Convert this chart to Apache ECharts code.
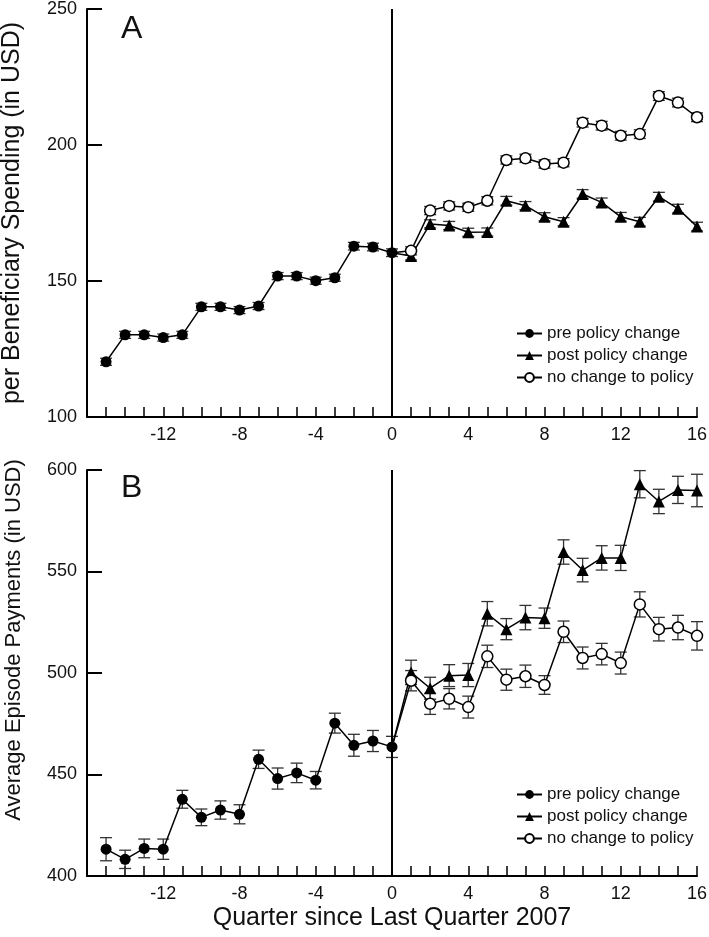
<!DOCTYPE html>
<html><head><meta charset="utf-8">
<script src="https://cdn.jsdelivr.net/npm/echarts@6/dist/echarts.min.js"></script>
<style>html,body{margin:0;padding:0;background:#fff}#c{width:709px;height:937px}</style>
</head><body><div id="c"></div>
<script>
// ---- data ----
var preX = [-15,-14,-13,-12,-11,-10,-9,-8,-7,-6,-5,-4,-3,-2,-1,0];
var postX = [0,1,2,3,4,5,6,7,8,9,10,11,12,13,14,15,16];
var xTickLabels = ['-12','-8','-4','0','4','8','12','16'];

var preA = [120.3,130.2,130.2,129.2,130.2,140.5,140.5,139.3,140.8,151.8,151.8,150.1,151.2,162.8,162.5,160.4];
var postA = [160.4,159.2,171,170.4,167.9,168,179.5,177.7,173.6,171.8,182,178.9,173.6,171.8,181,176.6,170];
var noChgA = [160.4,161.1,175.9,177.6,177.1,179.5,194.5,195.1,193,193.5,208.2,207.1,203.4,204,218,215.6,210.2];
var errPreA = [1.3,1.3,1.3,1.3,1.3,1.3,1.3,1.3,1.3,1.3,1.3,1.3,1.3,1.4,1.4,1.4];
var errPostA = [1.4,1.5,1.5,1.5,1.5,1.5,1.6,1.5,1.5,1.5,1.6,1.6,1.6,1.6,1.6,1.6,1.6];
var errNoChgA = [1.4,1.5,1.5,1.5,1.5,1.5,1.5,1.5,1.5,1.5,1.6,1.6,1.6,1.6,1.6,1.6,1.6];

var preB = [413.2,408.2,413.6,413.2,437.8,428.9,432.5,430.4,457.5,448,450.8,447.2,475.3,464.4,466.5,463.6];
var postB = [463.6,500.3,492.5,498.7,499,529.2,521.6,527.3,527,559.6,550.7,556.7,556.7,593,584.5,590.2,589.9];
var noChgB = [463.6,496.2,484.8,487.3,483.2,508.2,496.7,498.4,494.1,520.3,507.4,509.3,504.9,533.8,521.6,522.4,518.3];
var errPreB = [5.7,4.5,4.6,5,4.4,4.1,4.5,4.7,4.5,5.2,4.8,4.3,4.9,5.4,5.2,5.2];
var errPostB = [5.2,6,5.4,5.4,5.7,6,5.2,6,5,6,5.8,6,6.2,6.7,6,6.7,8];
var errNoChgB = [5.2,5,5.2,5,5.4,5.5,5.2,5.5,4.6,5.3,5.4,5.3,5.4,6.2,5.8,6,7];

var names = ['pre policy change','post policy change','no change to policy'];
var panelLetters = ['A','B'];
var yNames = ['per Beneficiary Spending (in USD)','Average Episode Payments (in USD)'];
var xName = 'Quarter since Last Quarter 2007';

// ---- build ----
function pairs(xs, ys){ return xs.map(function(x,i){ return [x, ys[i]]; }); }
function triples(xs, ys, es){ return xs.map(function(x,i){ return [x, ys[i], es[i]]; }); }
function errSeries(idx, data){
  return {
    type:'custom', xAxisIndex:idx, yAxisIndex:idx, z:1, silent:true,
    encode:{x:0,y:1},
    data:data,
    renderItem:function(params, api){
      var x = api.value(0), y = api.value(1), e = api.value(2);
      var lo = api.coord([x, y-e]), hi = api.coord([x, y+e]);
      var w = 6;
      var st = {stroke:'#333', lineWidth:1.3};
      return {type:'group', children:[
        {type:'line', shape:{x1:lo[0],y1:lo[1],x2:hi[0],y2:hi[1]}, style:st},
        {type:'line', shape:{x1:lo[0]-w,y1:lo[1],x2:lo[0]+w,y2:lo[1]}, style:st},
        {type:'line', shape:{x1:hi[0]-w,y1:hi[1],x2:hi[0]+w,y2:hi[1]}, style:st}
      ]};
    }
  };
}
function lineSeries(idx, name, data, symbol, fill, hideFirst){
  var d = data.map(function(p,i){
    if (hideFirst && i===0) return {value:p, symbol:'none'};
    return p;
  });
  return {
    type:'line', name:name, xAxisIndex:idx, yAxisIndex:idx, z:3,
    data:d, symbol:symbol, symbolSize: symbol==='triangle'?12:11,
    showAllSymbol:true,
    lineStyle:{color:'#000', width:1.5},
    itemStyle:{color:fill, borderColor:'#000', borderWidth: fill==='#fff'?1.5:0},
    emphasis:{disabled:true}
  };
}
function vline(idx){
  return {type:'line', xAxisIndex:idx, yAxisIndex:idx, data:[], z:2,
    markLine:{silent:true, symbol:['none','none'], label:{show:false},
      lineStyle:{color:'#000', width:2, type:'solid'}, data:[{xAxis:0}]}};
}

var font = 'Liberation Sans, Arial, sans-serif';
function xAxis(idx, showName){
  return {
    type:'value', gridIndex:idx, min:-16, max:16, interval:4,
    axisLine:{onZero:false, lineStyle:{color:'#000', width:2}},
    axisTick:{inside:true, length:10, lineStyle:{color:'#000', width:1.5}},
    minorTick:{show:true, splitNumber:4, length:10, lineStyle:{color:'#000', width:1.5}},
    splitLine:{show:false},
    axisLabel:{color:'#111', fontSize:18, fontFamily:font, margin:9,
      formatter:function(v){ var s = String(v); return xTickLabels.indexOf(s)>=0 ? s : ''; }},
    name: showName ? xName : '', nameLocation:'middle', nameGap:30,
    nameTextStyle:{color:'#111', fontSize:25, fontFamily:font}
  };
}
function yAxis(idx, min, max, nameSize, shiftUp){
  return {
    type:'value', gridIndex:idx, min:min, max:max, interval:50,
    axisLine:{show:true, onZero:false, lineStyle:{color:'#000', width:2}},
    axisTick:{show:true, inside:true, length:15, lineStyle:{color:'#000', width:2}},
    splitLine:{show:false},
    axisLabel:{color:'#111', fontSize:18, fontFamily:font, margin:10},
    name: yNames[idx], nameLocation:'middle', nameGap:62,
    nameTextStyle:{color:'#111', fontSize:nameSize, fontFamily:font, padding:[0,0,0,shiftUp*2]}
  };
}
function legend(top){
  return {
    data:names, orient:'vertical', left:511, top:top, itemWidth:25, itemHeight:11,
    itemGap:5, textStyle:{color:'#111', fontSize:17, fontFamily:font}, selectedMode:false
  };
}

var option = {
  animation:false,
  backgroundColor:'#fff',
  grid:[
    {left:87, top:9, width:610, height:408, containLabel:false, outerBoundsMode:'none'},
    {left:87, top:470, width:610, height:406, containLabel:false, outerBoundsMode:'none'}
  ],
  xAxis:[xAxis(0,false), xAxis(1,true)],
  yAxis:[yAxis(0,100,250,25,0), yAxis(1,400,600,22,33)],
  legend:[legend(320), legend(781)],
  graphic:[
    {type:'text', left:121, top:13, style:{text:panelLetters[0], fontSize:32, fontFamily:font, fill:'#111'}},
    {type:'text', left:121, top:472, style:{text:panelLetters[1], fontSize:32, fontFamily:font, fill:'#111'}}
  ],
  series:[
    vline(0), vline(1),
    errSeries(0, triples(preX, preA, errPreA)),
    errSeries(0, triples(postX.slice(1), postA.slice(1), errPostA.slice(1))),
    errSeries(0, triples(postX.slice(1), noChgA.slice(1), errNoChgA.slice(1))),
    errSeries(1, triples(preX, preB, errPreB)),
    errSeries(1, triples(postX.slice(1), postB.slice(1), errPostB.slice(1))),
    errSeries(1, triples(postX.slice(1), noChgB.slice(1), errNoChgB.slice(1))),
    lineSeries(0, names[1], pairs(postX, postA), 'triangle', '#000', true),
    lineSeries(0, names[2], pairs(postX, noChgA), 'circle', '#fff', true),
    lineSeries(0, names[0], pairs(preX, preA), 'circle', '#000', false),
    lineSeries(1, names[1], pairs(postX, postB), 'triangle', '#000', true),
    lineSeries(1, names[2], pairs(postX, noChgB), 'circle', '#fff', true),
    lineSeries(1, names[0], pairs(preX, preB), 'circle', '#000', false)
  ]
};
var chart = echarts.init(document.getElementById('c'), null, {renderer:'canvas'});
chart.setOption(option);
</script></body></html>
